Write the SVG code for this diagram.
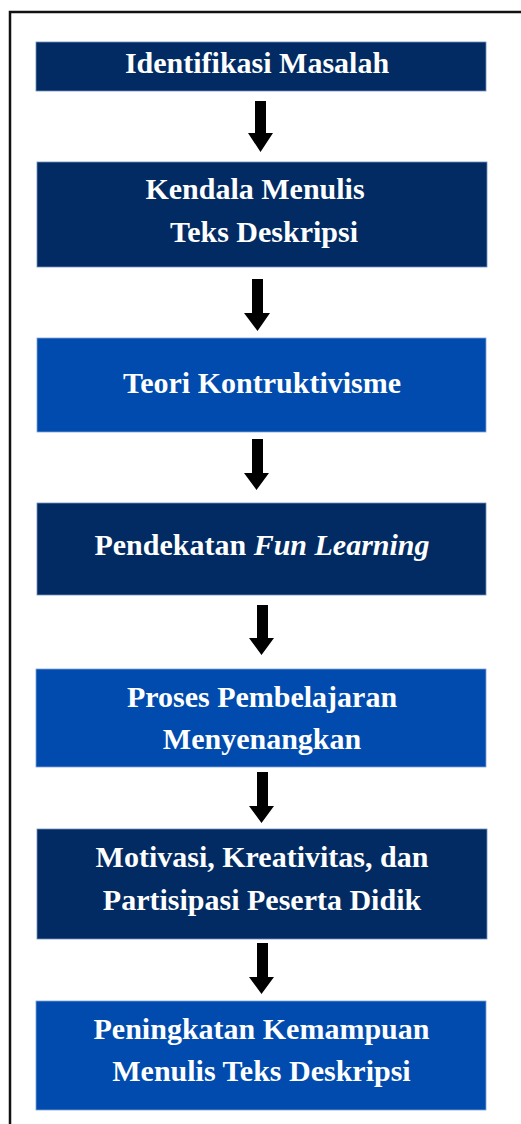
<svg xmlns="http://www.w3.org/2000/svg" width="521" height="1124" viewBox="0 0 521 1124">
<style>
.dark{fill:#012B62;stroke:#6f8fbf;stroke-width:0.8}
.blue{fill:#004BAD;stroke:#7fa0d6;stroke-width:0.8}
text{font-family:"Liberation Serif","Times New Roman",serif;font-weight:bold;font-size:30px;fill:#ffffff;text-anchor:middle}
.arrow{fill:#000000}
</style>
<rect width="521" height="1124" fill="#ffffff"/>
<path d="M10,1124 V12 H521" fill="none" stroke="#111111" stroke-width="2.5"/>
<g id="node1"><rect class="dark" x="36" y="42" width="450" height="49"/><text x="257" y="73">Identifikasi Masalah</text></g>
<g id="node2"><rect class="dark" x="37" y="162" width="450" height="105"/><text x="255" y="199">Kendala Menulis</text><text x="264" y="242">Teks Deskripsi</text></g>
<g id="node3"><rect class="blue" x="37" y="338" width="449" height="94"/><text x="262" y="393">Teori Kontruktivisme</text></g>
<g id="node4"><rect class="dark" x="37" y="503" width="449" height="92"/><text x="262" y="555">Pendekatan <tspan font-style="italic">Fun Learning</tspan></text></g>
<g id="node5"><rect class="blue" x="36" y="669" width="450" height="98"/><text x="262" y="707">Proses Pembelajaran</text><text x="262" y="749">Menyenangkan</text></g>
<g id="node6"><rect class="dark" x="37" y="829" width="450" height="110"/><text x="262" y="867">Motivasi, Kreativitas, dan</text><text x="262" y="910">Partisipasi Peserta Didik</text></g>
<g id="node7"><rect class="blue" x="36" y="1001" width="450" height="109"/><text x="261.5" y="1039">Peningkatan Kemampuan</text><text x="261.5" y="1081">Menulis Teks Deskripsi</text></g>
<g id="connectors">
<path class="arrow" d="M255,101 H266 V133 H273 L260.5,152 L248,133 H255 Z"/>
<path class="arrow" d="M252,279 H263 V313 H270 L257.5,331 L244,313 H252 Z"/>
<path class="arrow" d="M252,439 H263 V473 H269 L256.5,490 L244,473 H252 Z"/>
<path class="arrow" d="M257,605 H268 V638 H274 L261.5,655 L249,638 H257 Z"/>
<path class="arrow" d="M257,772 H268 V806 H274 L261.5,823 L249,806 H257 Z"/>
<path class="arrow" d="M257,943 H268 V977 H274 L261.5,994 L249,977 H257 Z"/>
</g>
</svg>
